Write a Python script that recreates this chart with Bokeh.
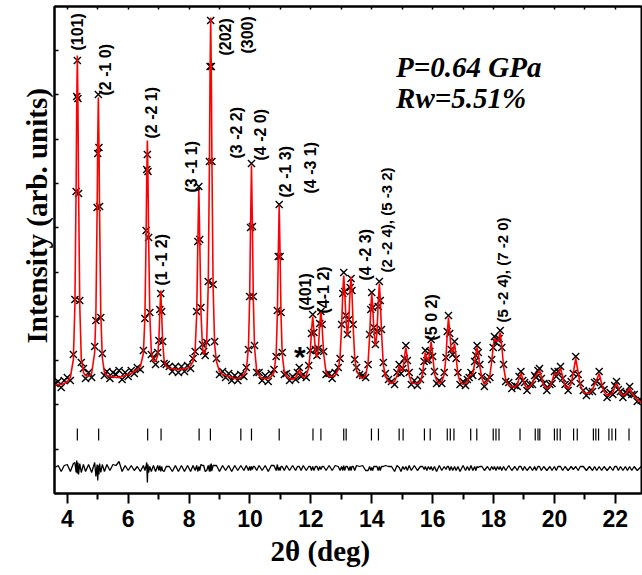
import numpy as np
from bokeh.plotting import figure
from bokeh.models import ColumnDataSource, FixedTicker, LinearAxis, Label, Range1d, Title
from bokeh.core.properties import value
from bokeh.embed import file_html
from bokeh.resources import INLINE

# ---------------- data (2theta in deg, intensity in arbitrary units) ----------------
two_theta = [
    3.60, 3.70, 3.80, 3.90, 4.00, 4.10, 4.20, 4.25, 4.29, 4.31, 4.33, 4.35, 4.37, 4.41, 4.46, 4.53,
    4.60, 4.70, 4.80, 4.90, 4.94, 4.98, 5.00, 5.02, 5.04, 5.06, 5.10, 5.15, 5.22, 5.30, 5.40, 5.50,
    5.60, 5.70, 5.80, 5.90, 6.00, 6.10, 6.20, 6.30, 6.40, 6.50, 6.55, 6.59, 6.61, 6.63, 6.65, 6.67,
    6.71, 6.76, 6.83, 6.90, 6.97, 7.01, 7.04, 7.07, 7.10, 7.13, 7.18, 7.25, 7.35, 7.45, 7.55, 7.65,
    7.75, 7.85, 7.95, 8.05, 8.13, 8.20, 8.25, 8.29, 8.32, 8.35, 8.39, 8.44, 8.48, 8.53, 8.58, 8.63,
    8.67, 8.69, 8.71, 8.73, 8.75, 8.79, 8.84, 8.90, 9.00, 9.10, 9.20, 9.30, 9.40, 9.50, 9.60, 9.70,
    9.80, 9.88, 9.95, 9.99, 10.02, 10.05, 10.08, 10.11, 10.15, 10.22, 10.30, 10.40, 10.50, 10.60, 10.70, 10.79,
    10.86, 10.90, 10.93, 10.96, 10.99, 11.02, 11.06, 11.13, 11.20, 11.30, 11.40, 11.50, 11.56, 11.62, 11.68, 11.75,
    11.85, 11.93, 11.98, 12.02, 12.06, 12.10, 12.15, 12.20, 12.25, 12.29, 12.33, 12.37, 12.42, 12.50, 12.60, 12.70,
    12.80, 12.90, 12.96, 13.01, 13.05, 13.08, 13.11, 13.15, 13.20, 13.25, 13.29, 13.32, 13.35, 13.39, 13.44, 13.50,
    13.60, 13.70, 13.80, 13.88, 13.93, 13.97, 14.00, 14.03, 14.07, 14.12, 14.17, 14.21, 14.25, 14.28, 14.32, 14.38,
    14.45, 14.55, 14.65, 14.75, 14.83, 14.90, 14.96, 15.02, 15.07, 15.12, 15.17, 15.23, 15.30, 15.40, 15.50, 15.60,
    15.67, 15.72, 15.76, 15.81, 15.86, 15.91, 15.95, 16.00, 16.06, 16.13, 16.22, 16.30, 16.38, 16.44, 16.48, 16.52,
    16.56, 16.61, 16.66, 16.72, 16.77, 16.83, 16.90, 17.00, 17.08, 17.14, 17.20, 17.26, 17.32, 17.38, 17.42, 17.46,
    17.50, 17.55, 17.62, 17.70, 17.80, 17.88, 17.94, 17.99, 18.03, 18.08, 18.13, 18.18, 18.22, 18.27, 18.33, 18.40,
    18.50, 18.60, 18.70, 18.78, 18.84, 18.90, 18.96, 19.02, 19.10, 19.20, 19.28, 19.35, 19.40, 19.46, 19.51, 19.57,
    19.65, 19.75, 19.85, 19.92, 20.00, 20.06, 20.12, 20.20, 20.27, 20.35, 20.45, 20.55, 20.62, 20.70, 20.78, 20.85,
    20.95, 21.05, 21.15, 21.25, 21.32, 21.39, 21.47, 21.55, 21.63, 21.73, 21.83, 21.92, 21.98, 22.04, 22.10, 22.17,
    22.25, 22.33, 22.40, 22.47, 22.54, 22.62, 22.72, 22.85,
]

i_calc = [
    109, 109, 109, 110, 112, 116, 134, 188, 306, 389, 438, 389, 306, 188, 135, 121,
    118, 117, 120, 141, 181, 282, 352, 396, 352, 282, 180, 136, 121, 118, 117, 117,
    116, 116, 117, 118, 119, 120, 122, 124, 127, 140, 177, 260, 318, 353, 318, 260,
    179, 142, 132, 132, 138, 155, 181, 203, 180, 154, 133, 127, 125, 125, 124, 124,
    124, 125, 125, 128, 132, 144, 179, 255, 305, 256, 182, 146, 139, 141, 153, 209,
    335, 423, 476, 422, 334, 206, 149, 132, 122, 119, 118, 117, 116, 115, 115, 116,
    119, 123, 146, 195, 268, 328, 268, 195, 146, 123, 118, 115, 115, 115, 117, 121,
    139, 179, 239, 288, 239, 179, 139, 121, 117, 115, 114, 116, 119, 124, 119, 116,
    118, 126, 141, 162, 177, 163, 142, 136, 147, 168, 183, 167, 140, 121, 117, 117,
    118, 124, 137, 167, 202, 218, 204, 176, 157, 176, 204, 217, 201, 167, 136, 123,
    117, 115, 118, 131, 157, 186, 200, 188, 164, 147, 160, 189, 210, 195, 162, 129,
    117, 112, 110, 112, 118, 128, 123, 123, 136, 146, 135, 118, 111, 110, 110, 112,
    120, 133, 141, 135, 132, 143, 152, 139, 120, 113, 110, 112, 119, 137, 160, 176,
    162, 142, 141, 150, 137, 119, 112, 109, 110, 112, 118, 118, 120, 130, 140, 146,
    140, 127, 115, 109, 112, 118, 132, 147, 155, 153, 152, 156, 161, 148, 127, 114,
    108, 107, 106, 109, 115, 120, 115, 109, 105, 107, 111, 116, 118, 121, 123, 117,
    108, 105, 107, 112, 120, 119, 120, 125, 117, 107, 105, 110, 121, 135, 121, 108,
    101, 100, 100, 104, 109, 114, 120, 110, 102, 98, 99, 101, 106, 110, 106, 100,
    98, 99, 102, 105, 101, 97, 94, 91,
]

i_obs = [
    110, 112, 106, 113, 116, 113, 139, 194, 302, 397, 433, 395, 300, 193, 131, 125,
    115, 121, 116, 147, 173, 286, 340, 399, 346, 287, 176, 140, 118, 122, 115, 121,
    119, 123, 114, 121, 117, 123, 120, 126, 124, 143, 175, 263, 324, 339, 322, 256,
    181, 139, 135, 129, 141, 153, 184, 200, 182, 152, 130, 129, 127, 122, 127, 121,
    127, 122, 128, 125, 135, 142, 182, 252, 307, 254, 186, 149, 142, 138, 151, 212,
    332, 427, 473, 427, 332, 209, 152, 135, 119, 122, 116, 120, 113, 118, 113, 119,
    117, 126, 144, 197, 266, 330, 267, 197, 148, 121, 121, 113, 118, 112, 120, 124,
    137, 183, 237, 289, 237, 181, 141, 119, 120, 113, 117, 114, 121, 126, 117, 119,
    116, 128, 143, 160, 179, 161, 144, 138, 145, 170, 182, 169, 142, 119, 120, 115,
    121, 126, 135, 169, 200, 221, 202, 178, 159, 174, 206, 215, 203, 169, 134, 126,
    119, 118, 116, 129, 159, 184, 201, 186, 166, 149, 162, 187, 212, 193, 164, 131,
    120, 114, 112, 109, 121, 129, 120, 125, 135, 148, 133, 121, 109, 113, 108, 114,
    122, 132, 143, 133, 134, 142, 154, 137, 122, 110, 113, 110, 121, 136, 162, 178,
    160, 144, 139, 152, 135, 121, 109, 112, 108, 114, 116, 121, 118, 132, 138, 148,
    141, 129, 117, 107, 114, 116, 134, 146, 157, 151, 154, 155, 163, 146, 129, 112,
    111, 105, 108, 107, 117, 122, 113, 111, 103, 109, 109, 118, 116, 123, 125, 115,
    110, 103, 109, 110, 122, 117, 122, 127, 115, 109, 103, 112, 120, 137, 119, 110,
    103, 98, 102, 102, 111, 112, 122, 108, 104, 96, 101, 99, 108, 112, 104, 102,
    96, 101, 100, 107, 99, 99, 92, 93,
]

# Bragg reflection positions (tick marks)
reflections = [
    4.33, 5.03, 6.64, 7.08, 8.33, 8.70, 9.70, 10.05, 10.96, 12.07, 12.33, 13.08, 13.16,
    13.99, 14.22, 14.90, 15.03, 15.73, 15.92, 16.48, 16.58, 16.70, 17.25, 17.45, 17.99,
    18.08, 18.18, 18.87, 19.37, 19.46, 19.52, 20.00, 20.09, 20.19, 20.63, 20.75, 21.28,
    21.36, 21.45, 21.79, 21.89, 22.01, 22.45,
]

# Miller-index annotations (2theta, intensity where the label starts)
hkl_text = ["(101)", "(2 -1 0)", "(2 -2 1)", "(1 -1 2)", "(3 -1 1)", "(202)", "(300)",
            "(3 -2 2)", "(4 -2 0)", "(2 -1 3)", "(4 -3 1)", "(401)", "(4-1 2)",
            "(4 -2 3)", "(5 0 2)"]
hkl_x = [4.34, 5.26, 6.76, 7.09, 8.09, 9.21, 9.93, 9.56, 10.33, 11.18, 12.00, 11.81, 12.40,
         13.79, 15.96]
hkl_y = [443, 398, 355, 208, 301, 438, 440, 335, 333, 296, 300, 183, 180, 213, 153]

hkl_long_text = ["(2 -2 4), (5 -3 2)", "(5 -2 4), (7 -2 0)"]
hkl_long_x = [14.50, 18.29]
hkl_long_y = [221, 171]

# ---------------- figure ----------------
DIFF_OFFSET = 25
TICK_LO, TICK_HI = 53, 65

x_arr = np.array(two_theta)
obs = np.array(i_obs, dtype=float)
calc = np.array(i_calc, dtype=float)
diff = obs - calc + DIFF_OFFSET

p = figure(width=642, height=575, x_range=Range1d(3.58, 22.86), y_range=Range1d(0, 487),
           output_backend="svg", toolbar_location=None,
           min_border_left=54, min_border_right=1, min_border_top=6, min_border_bottom=82)
p.outline_line_color = "black"
p.outline_line_width = 2
p.grid.visible = False
p.background_fill_color = "white"
p.border_fill_color = "white"

xa = p.xaxis[0]
xa.ticker = FixedTicker(ticks=list(range(4, 23, 2)), minor_ticks=list(range(3, 24, 2)))
xa.major_tick_out = 10
xa.major_tick_in = 0
xa.minor_tick_out = 6
xa.minor_tick_in = 0
xa.axis_line_width = 2
xa.major_tick_line_width = 2
xa.minor_tick_line_width = 2
xa.major_label_text_font = "Liberation Sans"
xa.major_label_text_font_style = "bold"
xa.major_label_text_font_size = "23px"
xa.major_label_text_color = "black"
xa.major_label_standoff = 6

ya = p.yaxis[0]
ya.ticker = FixedTicker(ticks=[], minor_ticks=[round(k * 44.3, 1) for k in range(11)])
ya.minor_tick_in = 4
ya.minor_tick_out = 0
ya.minor_tick_line_width = 1.5
ya.minor_tick_line_color = "black"
ya.axis_line_width = 2

top = LinearAxis(ticker=FixedTicker(ticks=[], minor_ticks=list(range(4, 23))),
                 minor_tick_in=3, minor_tick_out=0, minor_tick_line_width=1.5,
                 axis_line_width=2)
p.add_layout(top, "above")

# axis titles (placed off-centre as in the original)
p.add_layout(Title(text="Intensity (arb. units)", align="left", offset=150,
                   text_font="Liberation Serif", text_font_style="bold",
                   text_font_size="29px", text_color="black", standoff=4), "left")
p.add_layout(Title(text="2θ (deg)", align="left", offset=216,
                   text_font="Liberation Serif", text_font_style="bold",
                   text_font_size="29px", text_color="black", standoff=7), "below")

# observed points
p.scatter(x_arr, obs, marker="x", size=10, line_color="black", line_width=1.4)
# calculated profile
p.line(x_arr, calc, line_color="#ff0000", line_width=1.6)
# difference curve
p.line(x_arr, diff, line_color="black", line_width=1.3)
# reflection ticks
p.segment(x0=reflections, y0=TICK_LO, x1=reflections, y1=TICK_HI, line_color="black", line_width=1.2)

# hkl labels
src = ColumnDataSource(dict(x=hkl_x, y=hkl_y, t=hkl_text))
p.text(x="x", y="y", text="t", source=src, angle=np.pi / 2, text_align="left",
       text_baseline="middle", text_font=value("Liberation Sans"), text_font_style="bold",
       text_font_size="16px", text_color="black")
src2 = ColumnDataSource(dict(x=hkl_long_x, y=hkl_long_y, t=hkl_long_text))
p.text(x="x", y="y", text="t", source=src2, angle=np.pi / 2, text_align="left",
       text_baseline="middle", text_font=value("Liberation Sans"), text_font_style="bold",
       text_font_size="15px", text_color="black")

# impurity star
p.text(x=[11.64], y=[137], text=["*"], text_align="center", text_baseline="alphabetic",
       text_font=value("Liberation Sans"), text_font_style="bold", text_font_size="30px",
       text_color="black")

# pressure / Rw annotation
p.add_layout(Label(x=14.8, y=427, text="P=0.64 GPa", text_font="Liberation Serif",
                   text_font_style="bold italic", text_font_size="29px", text_color="black",
                   text_baseline="alphabetic"))
p.add_layout(Label(x=14.8, y=396, text="Rw=5.51%", text_font="Liberation Serif",
                   text_font_style="bold italic", text_font_size="29px", text_color="black",
                   text_baseline="alphabetic"))

open("out.html", "w").write(file_html(p, INLINE))
